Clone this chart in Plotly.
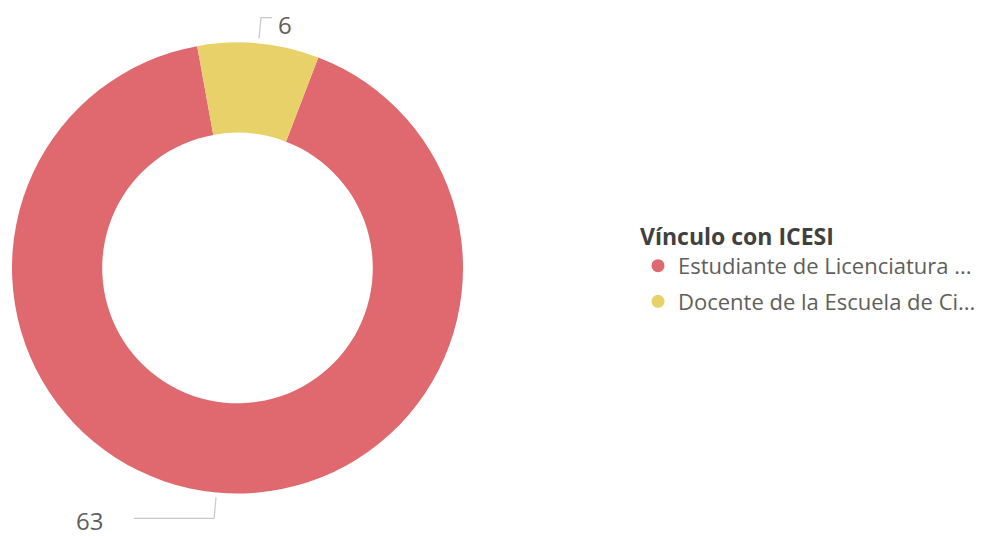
import math
import plotly.graph_objects as go

# ---- data ----
categories = ["Estudiante de Licenciatura ...", "Docente de la Escuela de Ci..."]
values = [63, 6]
legend_title = "Vínculo con ICESI"

# ---- style ----
colors = ["#E0686F", "#E8D168"]
OFF = 8                      # default page body margin
W, H = 979, 528              # figure size
FONT = "Open Sans, Noto Sans, sans-serif"
rotation = 21
cx, cy, R = 237.5, 268.0, 225.5   # in page pixels
hole = 0.6


def px(x):
    return (x - OFF) / W


def py(y):
    return 1 - (y - OFF) / H


fig = go.Figure()
fig.add_trace(go.Pie(
    labels=categories, values=values, hole=hole, sort=False,
    direction="clockwise", rotation=rotation,
    marker=dict(colors=colors, line=dict(color="white", width=0)),
    textinfo="none", hoverinfo="label+value", showlegend=False,
    domain=dict(x=[px(cx - R), px(cx + R)], y=[py(cy + R), py(cy - R)]),
))

# legend entries with circle symbols
for i, (c, col) in enumerate(zip(categories, colors)):
    fig.add_trace(go.Scatter(
        x=[None], y=[None], mode="markers", name=c, legendgroup=f"g{i}",
        marker=dict(symbol="circle", size=13, color=col),
    ))

# outside labels with leader lines, derived from the values
total = sum(values)
shapes, annotations = [], []
start = rotation
leader_len = [80, 11]
label_gap = [30, 5]
label_dy = [2, 7]
for i, v in enumerate(values):
    span = 360.0 * v / total
    mid = math.radians(start + span / 2)
    start += span
    sx, sy = math.sin(mid), -math.cos(mid)
    p0 = (cx + (R + 5) * sx, cy + (R + 5) * sy)
    p1 = (cx + (R + 26) * sx, cy + (R + 26) * sy)
    side = 1 if sx >= 0 else -1
    p2 = (p1[0] + side * leader_len[i], p1[1])
    path = "M {:.4f},{:.4f} L {:.4f},{:.4f} L {:.4f},{:.4f}".format(
        px(p0[0]), py(p0[1]), px(p1[0]), py(p1[1]), px(p2[0]), py(p2[1]))
    shapes.append(dict(type="path", xref="paper", yref="paper", path=path,
                       line=dict(color="#C8C8C8", width=1.2)))
    tx = p2[0] + side * label_gap[i]
    annotations.append(dict(
        x=px(tx), y=py(p2[1] + label_dy[i]), xref="paper", yref="paper",
        text=str(v), showarrow=False, xanchor="left" if side > 0 else "right",
        yanchor="middle", borderpad=0,
        font=dict(family=FONT, size=24, color="#605E5C"),
    ))

fig.update_layout(
    width=W, height=H,
    margin=dict(l=0, r=0, t=0, b=0, autoexpand=False),
    paper_bgcolor="white", plot_bgcolor="white",
    xaxis=dict(visible=False), yaxis=dict(visible=False),
    shapes=shapes, annotations=annotations,
    showlegend=True,
    legend=dict(
        x=px(638), y=py(215), xanchor="left", yanchor="top",
        title=dict(text="<b>" + legend_title + "</b>",
                   font=dict(family=FONT, size=23, color="#404040")),
        font=dict(family=FONT, size=22, color="#605E5C"),
        tracegroupgap=4, bgcolor="rgba(0,0,0,0)",
    ),
)

fig.write_html("out.html", config={"displayModeBar": False})
